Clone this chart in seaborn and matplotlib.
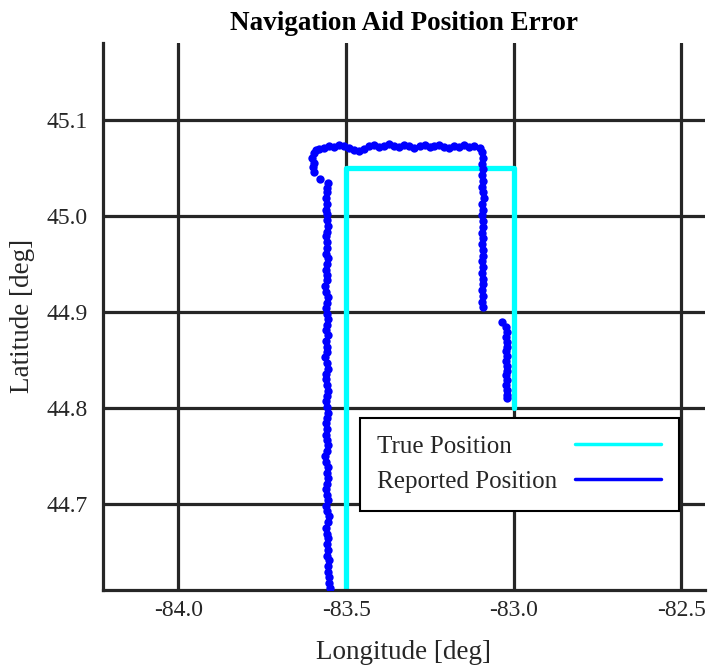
import numpy as np
import pandas as pd
import seaborn as sns
import matplotlib
matplotlib.use("Agg")
import matplotlib.pyplot as plt
from matplotlib.lines import Line2D

# ---------------- data ----------------
true_lon = [-83.5, -83.5, -83.0, -83.0]
true_lat = [44.61, 45.05, 45.05, 44.80]

# reported position, segment by segment (lon, lat)
reported_left = [
    (-83.549, 44.612), (-83.552, 44.617), (-83.550, 44.624), (-83.555, 44.629),
    (-83.553, 44.635), (-83.551, 44.641), (-83.556, 44.646), (-83.554, 44.652),
    (-83.558, 44.658), (-83.553, 44.664), (-83.556, 44.669), (-83.560, 44.675),
    (-83.555, 44.681), (-83.552, 44.687), (-83.557, 44.692), (-83.559, 44.698),
    (-83.554, 44.704), (-83.556, 44.709), (-83.561, 44.715), (-83.558, 44.721),
    (-83.555, 44.727), (-83.557, 44.732), (-83.553, 44.738), (-83.559, 44.744),
    (-83.562, 44.750), (-83.557, 44.755), (-83.555, 44.761), (-83.558, 44.767),
    (-83.561, 44.772), (-83.556, 44.778), (-83.559, 44.784), (-83.557, 44.790),
    (-83.554, 44.795), (-83.558, 44.801), (-83.560, 44.807), (-83.556, 44.813),
    (-83.553, 44.818), (-83.557, 44.824), (-83.561, 44.830), (-83.559, 44.835),
    (-83.555, 44.841), (-83.557, 44.847), (-83.562, 44.853), (-83.558, 44.858),
    (-83.556, 44.864), (-83.559, 44.870), (-83.555, 44.876), (-83.560, 44.881),
    (-83.557, 44.887), (-83.554, 44.893), (-83.558, 44.898), (-83.561, 44.904),
    (-83.557, 44.910), (-83.555, 44.916), (-83.559, 44.921), (-83.562, 44.927),
    (-83.558, 44.933), (-83.556, 44.939), (-83.560, 44.944), (-83.557, 44.950),
    (-83.555, 44.956), (-83.559, 44.961), (-83.556, 44.967), (-83.558, 44.973),
    (-83.561, 44.979), (-83.557, 44.984), (-83.555, 44.990), (-83.558, 44.996),
    (-83.556, 45.002), (-83.559, 45.007), (-83.557, 45.013), (-83.560, 45.019),
    (-83.558, 45.025), (-83.556, 45.030),
]
reported_corner = [
    (-83.554, 45.035), (-83.578, 45.039), (-83.596, 45.046), (-83.599, 45.051),
    (-83.596, 45.056), (-83.601, 45.061), (-83.597, 45.066), (-83.590, 45.069),
]
reported_top = [
    (-83.581, 45.070), (-83.566, 45.071), (-83.551, 45.073), (-83.536, 45.072),
    (-83.521, 45.074), (-83.506, 45.073), (-83.491, 45.071), (-83.476, 45.069),
    (-83.461, 45.068), (-83.446, 45.070), (-83.431, 45.073), (-83.416, 45.074),
    (-83.401, 45.072), (-83.386, 45.073), (-83.371, 45.075), (-83.356, 45.073),
    (-83.341, 45.072), (-83.326, 45.074), (-83.311, 45.073), (-83.296, 45.071),
    (-83.281, 45.073), (-83.266, 45.074), (-83.251, 45.072), (-83.237, 45.073),
    (-83.222, 45.074), (-83.207, 45.072), (-83.192, 45.071), (-83.177, 45.073),
    (-83.162, 45.072), (-83.147, 45.074), (-83.132, 45.072), (-83.117, 45.073),
    (-83.102, 45.071),
]
reported_right = [
    (-83.096, 45.067), (-83.093, 45.061), (-83.095, 45.055), (-83.092, 45.049),
    (-83.094, 45.043), (-83.091, 45.037), (-83.095, 45.031), (-83.093, 45.025),
    (-83.090, 45.019), (-83.094, 45.013), (-83.092, 45.007), (-83.095, 45.001),
    (-83.091, 44.995), (-83.093, 44.989), (-83.096, 44.983), (-83.092, 44.977),
    (-83.094, 44.971), (-83.091, 44.965), (-83.093, 44.959), (-83.096, 44.953),
    (-83.092, 44.947), (-83.094, 44.941), (-83.091, 44.935), (-83.093, 44.929),
    (-83.095, 44.923), (-83.092, 44.917), (-83.094, 44.911), (-83.091, 44.905),
]
reported_tail = [
    (-83.036, 44.890), (-83.023, 44.884), (-83.020, 44.879), (-83.022, 44.874),
    (-83.019, 44.869), (-83.021, 44.864), (-83.024, 44.859), (-83.020, 44.854),
    (-83.022, 44.849), (-83.019, 44.844), (-83.021, 44.839), (-83.023, 44.834),
    (-83.020, 44.829), (-83.024, 44.824), (-83.021, 44.819), (-83.019, 44.814),
    (-83.020, 44.810),
]

x_ticks = [-84.0, -83.5, -83.0, -82.5]
y_ticks = [44.7, 44.8, 44.9, 45.0, 45.1]
x_tick_labels = ["-84.0", "-83.5", "-83.0", "-82.5"]
y_tick_labels = ["44.7", "44.8", "44.9", "45.0", "45.1"]
legend_labels = ["True Position", "Reported Position"]

# ---------------- style ----------------
sns.set_theme(style="white")
plt.rcParams["font.family"] = ["Liberation Serif", "DejaVu Serif"]

grid_color = "#262626"
text_color = "#262626"

fig = plt.figure(figsize=(7.08, 6.69), dpi=100)
ax = fig.add_axes([0.1455, 0.118, 0.850, 0.818])

reported = pd.DataFrame(
    reported_left + reported_corner + reported_top + reported_right + reported_tail,
    columns=["lon", "lat"],
)
true_df = pd.DataFrame({"lon": true_lon, "lat": true_lat})

ax.set_xlim(-84.225, -82.43)
ax.set_ylim(44.61, 45.181)

for xv in x_ticks:
    ax.axvline(xv, color=grid_color, lw=2.3, zorder=1)
for yv in y_ticks:
    ax.axhline(yv, color=grid_color, lw=2.3, zorder=1)

sns.lineplot(data=true_df, x="lon", y="lat", sort=False, estimator=None,
             color="#00FFFF", lw=3.8, ax=ax, zorder=2,
             solid_joinstyle="round", solid_capstyle="round")
sns.scatterplot(data=reported, x="lon", y="lat", color="#0000FF", s=36,
                linewidth=0, ax=ax, zorder=3)

ax.set_xticks(x_ticks)
ax.set_xticklabels(x_tick_labels)
ax.set_yticks(y_ticks)
ax.set_yticklabels(y_tick_labels)
ax.tick_params(axis="both", length=0, labelsize=17, colors=text_color)
ax.tick_params(axis="x", pad=7)
ax.tick_params(axis="y", pad=11)

for side in ["top", "right"]:
    ax.spines[side].set_visible(False)
for side in ["left", "bottom"]:
    ax.spines[side].set_color(grid_color)
    ax.spines[side].set_linewidth(2.3)

ax.set_xlabel("Longitude [deg]", fontsize=19.5, color=text_color, labelpad=14)
ax.set_ylabel("Latitude [deg]", fontsize=19.5, color=text_color, labelpad=8)
ax.set_title("Navigation Aid Position Error", fontsize=19.5, fontweight="bold",
             color="black", pad=9)

handles = [Line2D([], [], color="#00FFFF", lw=2.5),
           Line2D([], [], color="#0000FF", lw=2.5)]
leg = ax.legend(handles, legend_labels,
                loc="upper left", bbox_to_anchor=(0.427, 0.3144),
                markerfirst=False, fontsize=18, frameon=True, fancybox=False,
                framealpha=1, edgecolor="black", handlelength=3.45,
                handletextpad=0.7, borderpad=0.7, labelspacing=0.5,
                borderaxespad=0)
leg.get_frame().set_linewidth(1.5)
leg.set_zorder(5)
for t in leg.get_texts():
    t.set_color(text_color)

# left-align legend labels while keeping handles right-aligned
try:
    fig.canvas.draw()
    renderer = fig.canvas.get_renderer()
    cols = leg._legend_handle_box.get_children()
    items = [it for col in cols for it in col.get_children()]
    W = max(it.get_bbox(renderer).width for it in items)
    for col in cols:
        col.align = "left"
    for it in items:
        it.mode = "expand"
        it.width = W
except Exception:
    pass

fig.savefig("out.png", dpi=100)
